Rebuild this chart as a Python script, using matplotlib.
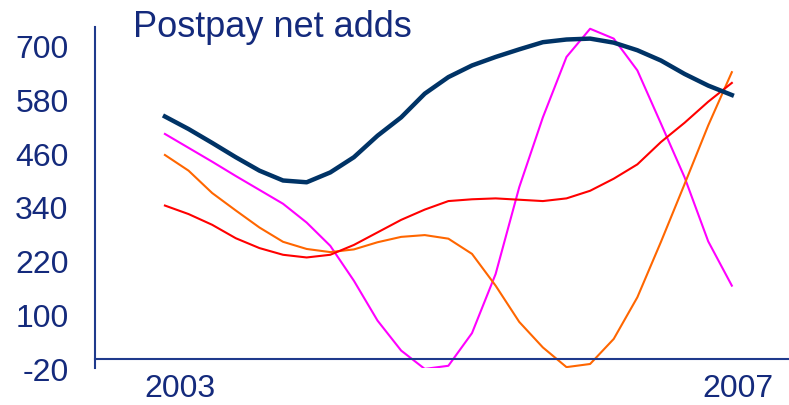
import matplotlib
matplotlib.use("Agg")
import matplotlib.pyplot as plt

plt.rcParams["font.family"] = ["Liberation Sans", "DejaVu Sans"]

# eixo x: pontos de amostragem ao longo do período (índice)
x_idx = list(range(25))
x_tick_pos = [0.63, 24.25]
x_tick_labels = ["2003", "2007"]
y_ticks = [-20, 100, 220, 340, 460, 580, 700]

# séries
navy = [542, 514, 483, 451, 421, 399, 395, 417, 451, 499, 540, 593, 630,
        656, 675, 692, 708, 714, 716, 707, 690, 667, 637, 611, 590]
magenta = [503, 472, 441, 409, 378, 347, 305, 253, 175, 86, 19, -22, -15,
           58, 190, 384, 540, 675, 738, 716, 645, 526, 406, 263, 164]
orange = [456, 421, 371, 332, 294, 262, 246, 239, 245, 261, 273, 277, 269,
          235, 164, 83, 26, -18, -11, 45, 138, 262, 391, 522, 641]
red = [343, 324, 300, 270, 248, 233, 227, 233, 255, 283, 311, 334, 353,
       357, 359, 356, 353, 359, 376, 403, 435, 485, 528, 575, 617]

text_color = "#142a7c"
axis_color = "#1f3a8c"

fig = plt.figure(figsize=(7.89, 4.06), dpi=100)
ax = fig.add_axes([0.1204, 0.0911, 0.8796, 0.84])

ax.plot(x_idx, magenta, color="#ff00ff", lw=1.5)
ax.plot(x_idx, orange, color="#ff6600", lw=1.5)
ax.plot(x_idx, red, color="#ff0000", lw=1.5)
ax.plot(x_idx, navy, color="#003366", lw=3.2)

ax.set_xlim(-2.96, 26.42)
ax.set_ylim(-20, 742)

for s in ["top", "right"]:
    ax.spines[s].set_visible(False)
ax.spines["bottom"].set_position(("data", 0))
ax.spines["left"].set_color(axis_color)
ax.spines["bottom"].set_color(axis_color)
ax.spines["left"].set_linewidth(1.5)
ax.spines["bottom"].set_linewidth(1.5)

ax.set_yticks(y_ticks)
ax.set_yticklabels([str(v) for v in y_ticks])
ax.set_xticks(x_tick_pos)
ax.set_xticklabels(x_tick_labels)
ax.tick_params(axis="y", length=0, pad=19, labelsize=23, labelcolor=text_color)
ax.tick_params(axis="x", length=0, pad=10, labelsize=23, labelcolor=text_color)

fig.text(133 / 789, 1 - 37 / 406, "Postpay net adds", fontsize=26,
         color=text_color, ha="left", va="baseline")

fig.savefig("out.png", dpi=100)
